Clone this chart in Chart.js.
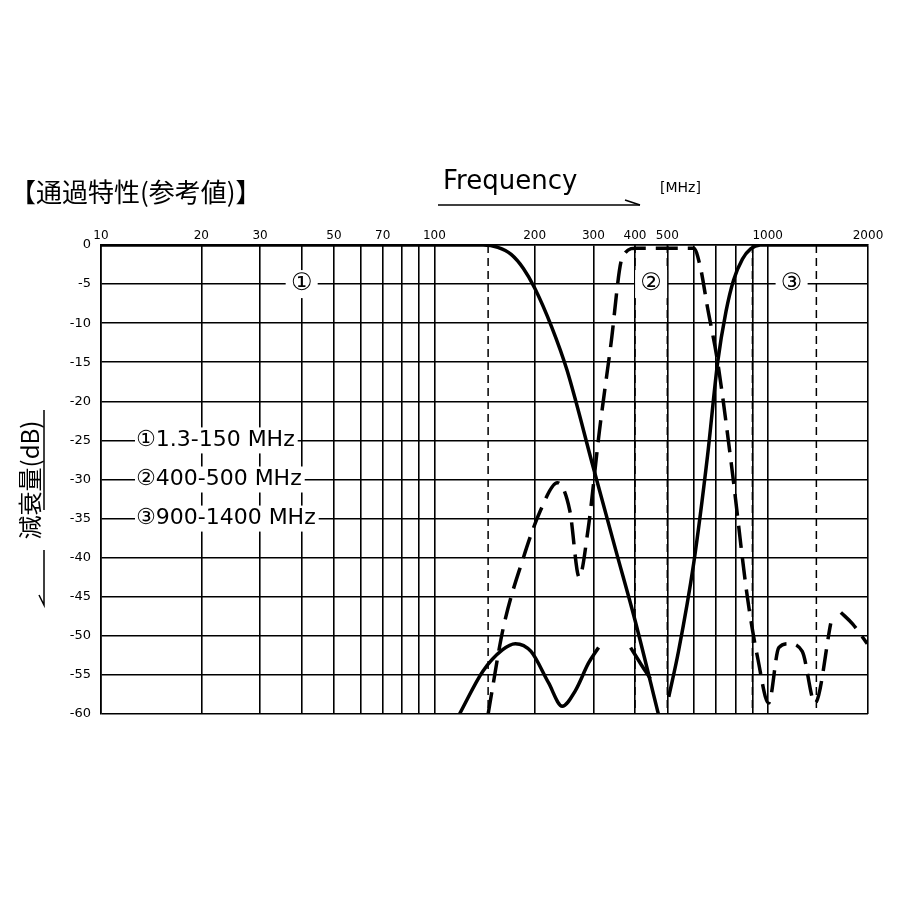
<!DOCTYPE html>
<html>
<head>
<meta charset="utf-8">
<script src="https://cdn.jsdelivr.net/npm/chart.js@4/dist/chart.umd.min.js"></script>
<style>
  body { margin: 0; background: #fff; }
</style>
</head>
<body>
<canvas id="grafica" width="900" height="900" style="width:900px;height:900px"></canvas>
<script>
const tickLabels = [10, 20, 30, 50, 70, 100, 200, 300, 400, 500, 1000, 2000];
const gridFreqs = [10,20,30,40,50,60,70,80,90,100,200,300,400,500,600,700,800,900,1000,2000];
const bandEdges = [145, 400, 500, 900, 1400];

// ① lowpass (solid)
const lpFreq = [10, 100, 140, 155, 170, 185, 200, 225, 250, 300, 350, 400, 470];
const lpDb   = [0, 0, 0, -0.3, -1.2, -3, -5.5, -10.5, -16, -28.5, -39, -48, -60];
// ③ highpass (solid) with stopband ripple
const hpFreq = [505, 540, 600, 660, 708, 750, 790, 840, 889, 950, 2000];
const hpDb   = [-57.8, -52, -40.7, -27, -15, -8.5, -4.5, -1.8, -0.5, 0, 0];
const ripFreq = [119, 140, 160, 175, 195, 220, 242, 265, 290, 311];
const ripDb   = [-60, -54.5, -51.8, -51, -52, -56, -59, -57, -53.5, -51.5];
const rip2Freq = [388, 415, 445];
const rip2Db   = [-51.5, -53.5, -55.5];
// ② bandpass (dashed)
const bpFreq = [145, 161, 185, 208, 234, 255, 272, 289, 313, 338, 367, 405, 600, 628, 660, 708, 778, 869, 935, 1007, 1080, 1157, 1270, 1387, 1546];
const bpDb   = [-60, -49, -40, -34, -30.4, -34, -42.5, -36.5, -23.7, -13, -1.5, -0.4, -0.4, -2.8, -8, -15, -28, -45, -53, -58.6, -51.5, -51, -52, -58.6, -48.4];
const bp2Freq = [1658, 1800, 1990];
const bp2Db   = [-47, -48.5, -51];

const toPts = (f, d) => f.map((v, i) => ({ x: v, y: d[i] }));

const notes = {
    id: 'notes',
    afterDraw(chart) {
        const c = chart.ctx;
        const x = chart.scales.x, y = chart.scales.y;
        c.save();
        c.fillStyle = '#000';
        c.strokeStyle = '#000';
        // band edge dashed lines
        c.setLineDash([8, 5]);
        c.lineWidth = 1.5;
        bandEdges.forEach(f => {
            const px = x.getPixelForValue(f);
            c.beginPath(); c.moveTo(px, y.top); c.lineTo(px, y.bottom); c.stroke();
        });
        c.setLineDash([]);
        // title
        c.font = '26px "Noto Sans CJK JP"';
        c.textBaseline = 'middle';
        c.textAlign = 'left';
        c.fillText('【通過特性(参考値)】', 10, 192);
        c.font = '26px "DejaVu Sans"';
        c.fillText('Frequency', 443, 182);
        c.font = '14px "DejaVu Sans"';
        c.fillText('[MHz]', 660, 188);
        c.lineWidth = 1.5;
        c.beginPath(); c.moveTo(438, 205); c.lineTo(640, 205); c.stroke();
        c.beginPath(); c.moveTo(625, 200); c.lineTo(640, 205); c.stroke();
        // band numbers
        c.font = '24px "DejaVu Sans"';
        c.textAlign = 'center';
        [['①', 40], ['②', 447], ['③', 1180]].forEach(([t, f]) => {
            const px = x.getPixelForValue(f), py = y.getPixelForValue(-5);
            c.fillStyle = '#fff';
            c.fillRect(px - 16, py - 14, 32, 28);
            c.fillStyle = '#000';
            c.fillText(t, px, py);
        });
        // legend text
        c.font = '22px "DejaVu Sans"';
        c.textAlign = 'left';
        [['①1.3-150 MHz', -25], ['②400-500 MHz', -30], ['③900-1400 MHz', -35]].forEach(([t, v]) => {
            const py = y.getPixelForValue(v);
            const w = c.measureText(t).width;
            c.fillStyle = '#fff';
            c.fillRect(135, py - 13, w + 4, 26);
            c.fillStyle = '#000';
            c.fillText(t, 136, py);
        });
        // y title
        c.translate(30, 480);
        c.rotate(-Math.PI / 2);
        c.font = '24px "Noto Sans CJK JP"';
        c.textAlign = 'center';
        c.fillText('減衰量(dB)', 0, 0);
        c.lineWidth = 1.5;
        c.beginPath(); c.moveTo(-70, 14); c.lineTo(-125, 14); c.lineTo(-115, 9); c.stroke();
        c.beginPath(); c.moveTo(-30, 14); c.lineTo(70, 14); c.stroke();
        c.restore();
    }
};

const base = { borderColor: '#000', borderWidth: 3.5, pointRadius: 0, fill: false, cubicInterpolationMode: 'monotone' };

new Chart(document.getElementById('grafica'), {
    type: 'line',
    data: {
        datasets: [
            { ...base, data: toPts(lpFreq, lpDb) },
            { ...base, data: toPts(hpFreq, hpDb) },
            { ...base, data: toPts(ripFreq, ripDb) },
            { ...base, data: toPts(rip2Freq, rip2Db) },
            { ...base, borderDash: [22, 10], data: toPts(bpFreq, bpDb) },
            { ...base, borderDash: [22, 10], data: toPts(bp2Freq, bp2Db) }
        ]
    },
    options: {
        responsive: false,
        animation: false,
        devicePixelRatio: 1,
        layout: { padding: { left: 51, top: 220, right: 32, bottom: 186 } },
        plugins: { legend: { display: false }, tooltip: { enabled: false } },
        scales: {
            x: {
                type: 'logarithmic',
                position: 'top',
                min: 10,
                max: 2000,
                afterFit: s => { s.height = 25; },
                afterBuildTicks: s => { s.ticks = gridFreqs.map(v => ({ value: v })); },
                ticks: {
                    autoSkip: false,
                    maxRotation: 0,
                    color: '#000',
                    padding: 2,
                    font: { size: 12, family: 'DejaVu Sans' },
                    callback: v => tickLabels.includes(v) ? String(v) : ''
                },
                grid: { color: '#000', lineWidth: 1.6, drawTicks: false },
                border: { color: '#000', width: 1.6 }
            },
            y: {
                min: -60,
                max: 0,
                afterFit: s => { s.width = 50; },
                ticks: {
                    stepSize: 5,
                    color: '#000',
                    padding: 10,
                    font: { size: 13, family: 'DejaVu Sans' }
                },
                grid: { color: '#000', lineWidth: 1.6, drawTicks: false },
                border: { color: '#000', width: 1.6 }
            }
        }
    },
    plugins: [notes]
});
</script>
</body>
</html>
